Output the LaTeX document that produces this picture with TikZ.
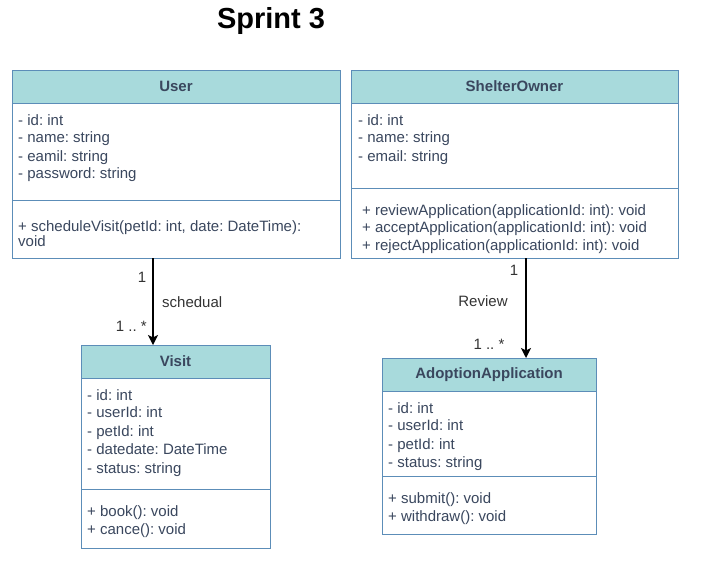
\documentclass[tikz,border=0pt]{standalone}
\usepackage{fontspec}
\setmainfont{Liberation Sans}
\usetikzlibrary{arrows.meta}
\frenchspacing
\definecolor{hdr}{HTML}{A8DADC}
\definecolor{bord}{HTML}{5C8DB8}
\definecolor{txtc}{HTML}{3A475E}
\tikzset{
 classbox/.style={draw=bord, line width=1pt, fill=white, anchor=north west, inner sep=0pt, outer sep=0pt},
 headbox/.style={draw=bord, line width=1pt, fill=hdr, anchor=north west, inner sep=0pt, outer sep=0pt, minimum height=33pt, font=\fontsize{15}{18}\selectfont\bfseries, text=txtc},
 mem/.style={anchor=base west, inner sep=0pt, font=\fontsize{15}{18}\selectfont, text=txtc},
 lbl/.style={inner sep=0pt, font=\fontsize{15}{18}\selectfont, text=black!80},
 divider/.style={draw=bord, line width=1pt},
 arr/.style={-{Stealth[length=10pt,width=10pt,inset=2.5pt]}, line width=1.4pt, black}
}
\begin{document}
\begin{tikzpicture}[x=1pt,y=-1pt]
\useasboundingbox (0,0) rectangle (703,571);

\node[anchor=base, inner sep=0pt, font=\fontsize{29}{34}\selectfont\bfseries] (title) at (271,28) {Sprint 3};

% User
\node[classbox, minimum width=328pt, minimum height=188pt] (user) at (12,70) {};
\node[headbox, minimum width=328pt] (userh) at (12,70) {User};
\draw[divider] (12,200) -- (340,200);
\node[mem] (u1) at (18,125) {- id: int};
\node[mem] (u2) at (18,142) {- name: string};
\node[mem] (u3) at (18,161) {- eamil: string};
\node[mem] (u4) at (18,178) {- password: string};
\node[mem] (u5) at (18,231) {+ scheduleVisit(petId: int, date: DateTime):};
\node[mem] (u6) at (18,246) {void};

% ShelterOwner
\node[classbox, minimum width=327pt, minimum height=188pt] (shelter) at (351,70) {};
\node[headbox, minimum width=327pt] (shelterh) at (351,70) {ShelterOwner};
\draw[divider] (351,188) -- (678,188);
\node[mem] (s1) at (358,125) {- id: int};
\node[mem] (s2) at (358,142) {- name: string};
\node[mem] (s3) at (358,161) {- email: string};
\node[mem] (s4) at (362,215) {+ reviewApplication(applicationId: int): void};
\node[mem] (s5) at (362,232) {+ acceptApplication(applicationId: int): void};
\node[mem] (s6) at (362,250) {+ rejectApplication(applicationId: int): void};

% Visit
\node[classbox, minimum width=189pt, minimum height=203pt] (visit) at (81,345) {};
\node[headbox, minimum width=189pt] (visith) at (81,345) {Visit};
\draw[divider] (81,489) -- (270,489);
\node[mem] (v1) at (87,400) {- id: int};
\node[mem] (v2) at (87,417) {- userId: int};
\node[mem] (v3) at (87,436) {- petId: int};
\node[mem] (v4) at (87,454) {- datedate: DateTime};
\node[mem] (v5) at (87,473) {- status: string};
\node[mem] (v6) at (87,516) {+ book(): void};
\node[mem] (v7) at (87,534) {+ cance(): void};

% AdoptionApplication
\node[classbox, minimum width=214pt, minimum height=176pt] (adopt) at (382,358) {};
\node[headbox, minimum width=214pt] (adopth) at (382,358) {AdoptionApplication};
\draw[divider] (382,476) -- (596,476);
\node[mem] (a1) at (388,413) {- id: int};
\node[mem] (a2) at (388,430) {- userId: int};
\node[mem] (a3) at (388,449) {- petId: int};
\node[mem] (a4) at (388,467) {- status: string};
\node[mem] (a5) at (388,503) {+ submit(): void};
\node[mem] (a6) at (388,521) {+ withdraw(): void};

% connectors
\draw[arr] ([xshift=141pt]user.south west) -- ([xshift=72pt]visith.north west);
\node[lbl] (l1) at (142,277) {1};
\node[lbl, anchor=west] (l2) at (162,302) {schedual};
\node[lbl, anchor=east] (l3) at (147,326) {1 .. *};

\draw[arr] ([xshift=175pt]shelter.south west) -- ([xshift=144pt]adopth.north west);
\node[lbl] (l4) at (514,270) {1};
\node[lbl] (l5) at (483,301) {Review};
\node[lbl] (l6) at (489,344) {1 .. *};
\end{tikzpicture}
\end{document}
